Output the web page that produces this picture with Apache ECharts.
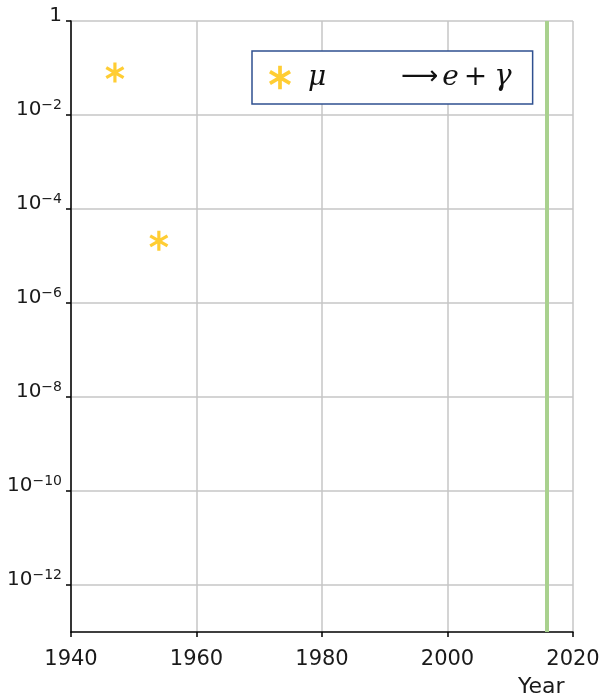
<!DOCTYPE html>
<html>
<head>
<meta charset="utf-8">
<script src="https://cdn.jsdelivr.net/npm/echarts@6/dist/echarts.min.js"></script>
<style>
  html, body { margin: 0; padding: 0; background: #fff; }
  #chart { width: 605px; height: 698px; }
</style>
</head>
<body>
<div id="chart"></div>
<script>
// Upper limits on the branching ratio of mu -> e gamma, by year
const years = [1947, 1954];
const limits = [0.08, 2.1e-5];

// Year marker drawn as a vertical line
const markerYear = 2015.8;

// Axis ranges and tick values
const xMin = 1940, xMax = 2020, xStep = 20;
const yMin = 1e-13, yMax = 1;
const yTickValues = [1, 1e-2, 1e-4, 1e-6, 1e-8, 1e-10, 1e-12];

const seriesName = 'mu-e-gamma';
const xAxisName = 'Year';

// Six-armed asterisk built from three thin bars
function asteriskPath(w) {
  const parts = [];
  [90, 30, 150].forEach(function (deg) {
    const a = deg * Math.PI / 180;
    const dx = Math.cos(a), dy = Math.sin(a);
    const nx = -dy * w / 2, ny = dx * w / 2;
    const pts = [
      [dx + nx, dy + ny], [dx - nx, dy - ny],
      [-dx - nx, -dy - ny], [-dx + nx, -dy + ny]
    ];
    parts.push('M' + pts.map(function (p) {
      return (p[0] + 1.2).toFixed(3) + ' ' + (p[1] + 1.2).toFixed(3);
    }).join(' L') + ' Z');
  });
  return 'path://' + parts.join(' ');
}
const starIcon = asteriskPath(0.32);

function yLabel(value) {
  const e = Math.round(Math.log10(value));
  if (e === 0) return '{b|1}';
  return '{b|10}{s|−' + (-e) + '}';
}

const mathFont = 'DejaVu Serif';
const chart = echarts.init(document.getElementById('chart'), null, { renderer: 'canvas' });

chart.setOption({
  animation: false,
  backgroundColor: '#ffffff',
  textStyle: { fontFamily: 'DejaVu Sans' },
  grid: { left: 71, right: 32, top: 21, bottom: 66, containLabel: false },
  legend: {
    left: 252,
    top: 51,
    orient: 'horizontal',
    backgroundColor: '#ffffff',
    borderColor: '#2f5090',
    borderWidth: 1.5,
    borderRadius: 0,
    padding: [12, 21, 12, 17],
    itemWidth: 22,
    itemHeight: 24,
    data: [{ name: seriesName, icon: starIcon, itemStyle: { color: '#ffc000' } }],
    formatter: function () {
      return '{mu|μ}{ar|⟶}{e|e}{op|+}{g|γ}';
    },
    textStyle: {
      lineHeight: 26,
      rich: {
        mu: { fontFamily: mathFont, fontStyle: 'italic', fontSize: 28, lineHeight: 26, color: '#111', width: 93, padding: [0, 0, 0, 12] },
        ar: { fontFamily: 'DejaVu Sans', fontSize: 26, lineHeight: 26, color: '#111', padding: [0, 4, 0, 0] },
        e: { fontFamily: mathFont, fontStyle: 'italic', fontSize: 28, lineHeight: 26, color: '#111' },
        op: { fontFamily: mathFont, fontSize: 28, lineHeight: 26, color: '#111', padding: [0, 7, 0, 5] },
        g: { fontFamily: mathFont, fontStyle: 'italic', fontSize: 29, lineHeight: 26, color: '#111' }
      }
    }
  },
  graphic: [{
    type: 'text',
    left: 518,
    top: 676,
    style: { text: xAxisName, font: '22px "DejaVu Sans"', fill: '#1a1a1a' }
  }],
  xAxis: {
    type: 'value',
    min: xMin,
    max: xMax,
    interval: xStep,
    axisLine: { show: true, onZero: false, lineStyle: { color: '#000', width: 1.5 } },
    axisTick: { show: true, length: 5, lineStyle: { color: '#000', width: 1.5 } },
    axisLabel: {
      fontFamily: 'DejaVu Sans', fontSize: 21, color: '#1a1a1a', margin: 17,
      showMinLabel: true, showMaxLabel: true,
      formatter: function (v) { return String(v); }
    },
    splitLine: { show: true, lineStyle: { color: '#c6c6c6', width: 1.5 } }
  },
  yAxis: {
    type: 'log',
    logBase: 10,
    min: yMin,
    max: yMax,
    axisLine: { show: true, onZero: false, lineStyle: { color: '#000', width: 1.5 } },
    axisTick: { show: true, length: 5, customValues: yTickValues, lineStyle: { color: '#000', width: 1.5 } },
    axisLabel: {
      customValues: yTickValues,
      margin: 9,
      formatter: yLabel,
      padding: [0, 0, 12, 0],
      rich: {
        b: { fontFamily: 'DejaVu Sans', fontSize: 20, lineHeight: 22, color: '#1a1a1a', verticalAlign: 'bottom' },
        s: { fontFamily: 'DejaVu Sans', fontSize: 14, lineHeight: 14, color: '#1a1a1a', verticalAlign: 'bottom', padding: [0, 0, 8, 0] }
      }
    },
    splitLine: { show: true, lineStyle: { color: '#c6c6c6', width: 1.5 } }
  },
  series: [{
    name: seriesName,
    type: 'scatter',
    symbol: starIcon,
    symbolSize: 20,
    symbolKeepAspect: true,
    itemStyle: { color: '#ffc000' },
    data: years.map(function (y, i) { return [y, limits[i]]; }),
    markLine: {
      silent: true,
      symbol: ['none', 'none'],
      label: { show: false },
      lineStyle: { color: '#a9d18e', width: 4, type: 'solid' },
      data: [{ xAxis: markerYear }]
    }
  }]
});
</script>
</body>
</html>
